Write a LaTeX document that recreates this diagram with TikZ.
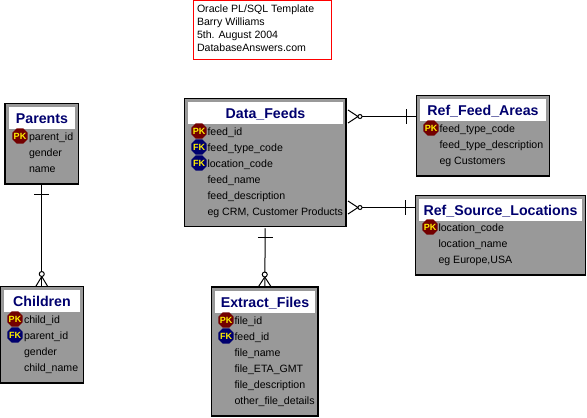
\documentclass[tikz,border=0pt]{standalone}
\usepackage{fontspec}
\setmainfont{Liberation Sans}
\usetikzlibrary{shapes.geometric}
\definecolor{boxgrey}{RGB}{153,153,153}
\definecolor{titlenavy}{RGB}{0,0,110}
\definecolor{pkred}{RGB}{115,0,0}
\begin{document}
\begin{tikzpicture}[x=1pt,y=-1pt,inner sep=0pt,outer sep=0pt,line width=1pt,
entity/.style={draw,line width=1.2pt,fill=boxgrey,rectangle},
titlebar/.style={fill=white,text=titlenavy,text height=13pt,text depth=2pt,font=\fontsize{14.2}{14}\selectfont\bfseries},
column/.style={anchor=west,text height=11pt,text depth=2pt,font=\fontsize{10.6}{11}\selectfont},
pk/.style={regular polygon,regular polygon sides=8,inner sep=-3pt,minimum size=16.5pt,fill=pkred,text=yellow,font=\fontsize{9}{9}\selectfont\bfseries},
fk/.style={pk,fill=titlenavy},
notebox/.style={draw=red,line width=1pt,fill=white,rectangle}]
\useasboundingbox (0,0) rectangle (587,418);
% note
\node[notebox,minimum width=138pt,minimum height=59pt] (note) at (262.5,30) {};
\node[column] (note1) at (197,8) {Oracle PL/SQL Template};
\node[column] (note2) at (197,21) {Barry Williams};
\node[column] (note3) at (197,34) {5th. August 2004};
\node[column] (note4) at (197,47) {DatabaseAnswers.com};
% entities
\node[entity,minimum width=73.5pt,minimum height=80.5pt] (Parents) at (41.75,143.75) {};
\node[entity,minimum width=161.5pt,minimum height=127.5pt] (Data_Feeds) at (265.25,162.5) {};
\node[entity,minimum width=133pt,minimum height=80.5pt] (Ref_Feed_Areas) at (483,135.75) {};
\node[entity,minimum width=170pt,minimum height=79.5pt] (Ref_Source_Locations) at (500.5,235.25) {};
\node[entity,minimum width=83.5pt,minimum height=96.5pt] (Children) at (41.75,334.75) {};
\node[entity,minimum width=106.5pt,minimum height=129pt] (Extract_Files) at (264.75,351.5) {};
% titles
\node[titlebar,minimum width=66pt,minimum height=22pt] (parents_t) at (42,118) {Parents};
\node[titlebar,minimum width=155pt,minimum height=22pt] (feeds_t) at (265.5,113) {Data\_Feeds};
\node[titlebar,minimum width=126pt,minimum height=22pt] (areas_t) at (483,110) {Ref\_Feed\_Areas};
\node[titlebar,minimum width=163pt,minimum height=22pt] (locations_t) at (500.5,209.5) {Ref\_Source\_Locations};
\node[titlebar,minimum width=76pt,minimum height=22pt] (children_t) at (42,301) {Children};
\node[titlebar,minimum width=100pt,minimum height=22pt] (files_t) at (265,302) {Extract\_Files};
% columns
\node[pk] (parents_k1) at (20,136) {PK};
\node[column] (parents_c1) at (29,136) {parent\_id};
\node[column] (parents_c2) at (29,152) {gender};
\node[column] (parents_c3) at (29,168) {name};
\node[pk] (feeds_k1) at (199,131) {PK};
\node[fk] (feeds_k2) at (199,147) {FK};
\node[fk] (feeds_k3) at (199,163) {FK};
\node[column] (feeds_c1) at (207.5,131) {feed\_id};
\node[column] (feeds_c2) at (207.5,147) {feed\_type\_code};
\node[column] (feeds_c3) at (207.5,163) {location\_code};
\node[column] (feeds_c4) at (207.5,179) {feed\_name};
\node[column] (feeds_c5) at (207.5,195) {feed\_description};
\node[column] (feeds_c6) at (207.5,211) {eg CRM, Customer Products};
\node[pk] (areas_k1) at (431,128) {PK};
\node[column] (areas_c1) at (439.5,128) {feed\_type\_code};
\node[column] (areas_c2) at (439.5,144) {feed\_type\_description};
\node[column] (areas_c3) at (439.5,160) {eg Customers};
\node[pk] (locations_k1) at (430,227) {PK};
\node[column] (locations_c1) at (438.5,227) {location\_code};
\node[column] (locations_c2) at (438.5,243) {location\_name};
\node[column] (locations_c3) at (438.5,259) {eg Europe,USA};
\node[pk] (children_k1) at (15,319) {PK};
\node[fk] (children_k2) at (15,335) {FK};
\node[column] (children_c1) at (24,319) {child\_id};
\node[column] (children_c2) at (24,335) {parent\_id};
\node[column] (children_c3) at (24,351) {gender};
\node[column] (children_c4) at (24,367) {child\_name};
\node[pk] (files_k1) at (226,320) {PK};
\node[fk] (files_k2) at (226,336) {FK};
\node[column] (files_c1) at (234.5,320) {file\_id};
\node[column] (files_c2) at (234.5,336) {feed\_id};
\node[column] (files_c3) at (234.5,352) {file\_name};
\node[column] (files_c4) at (234.5,368) {file\_ETA\_GMT};
\node[column] (files_c5) at (234.5,384) {file\_description};
\node[column] (files_c6) at (234.5,400) {other\_file\_details};
% relationships
\coordinate (areas_in) at ([yshift=-21pt]Ref_Feed_Areas.north west);
\coordinate (locations_in) at ([yshift=-12pt]Ref_Source_Locations.north west);
\draw (Parents.south) -- (Children.north);
\draw (Parents.south) ++(-7.5,10.5) -- ++(15,0);
\draw (Children.north) ++(-6,0) -- ++(6,-10) -- ++(6,10);
\draw[fill=white] (Children.north) ++(0,-12.5) circle (2.5);
\draw (Data_Feeds.south) ++(0,2) -- (Extract_Files.north);
\draw (Data_Feeds.south) ++(-7.5,11) -- ++(15,0);
\draw (Extract_Files.north) ++(-6.5,0) -- ++(6.5,-10) -- ++(6.5,10);
\draw[fill=white] (Extract_Files.north) ++(0,-12.5) circle (2.5);
\draw (areas_in -| Data_Feeds.east) ++(13,0) -- (areas_in);
\draw (areas_in) ++(-10.5,-7.5) -- ++(0,15);
\draw (areas_in -| Data_Feeds.east) ++(2,-6.5) -- ++(10,6.5) -- ++(-10,6.5);
\draw[fill=white] (areas_in -| Data_Feeds.east) ++(14,0) circle (2);
\draw (locations_in -| Data_Feeds.east) ++(13,0) -- (locations_in);
\draw (locations_in) ++(-10,-7.5) -- ++(0,15);
\draw (locations_in -| Data_Feeds.east) ++(2,-6.5) -- ++(10,6.5) -- ++(-10,6.5);
\draw[fill=white] (locations_in -| Data_Feeds.east) ++(14,0) circle (2);
\end{tikzpicture}
\end{document}
